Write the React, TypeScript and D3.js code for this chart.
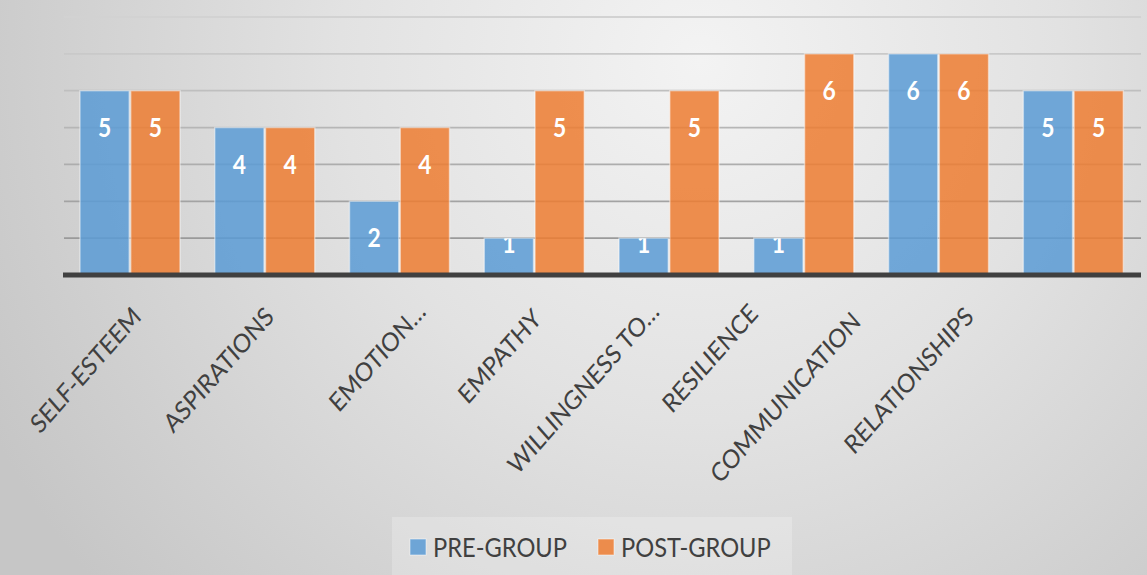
import React from "react";
import * as d3 from "d3";

const categories = [
  "SELF-ESTEEM",
  "ASPIRATIONS",
  "EMOTION…",
  "EMPATHY",
  "WILLINGNESS TO…",
  "RESILIENCE",
  "COMMUNICATION",
  "RELATIONSHIPS",
];
const preGroup = [5, 4, 2, 1, 1, 1, 6, 5];
const postGroup = [5, 4, 4, 5, 5, 6, 6, 5];
const seriesNames = ["PRE-GROUP", "POST-GROUP"];
const yTicks = [1, 2, 3, 4, 5, 6, 7];

// layout-only nudges for the rotated category labels (top-right end relative to band centre)
const labelEndDx = [1, -1, 16, -3, -20, -56, -88, -110];
const labelTopY = [305, 305, 300, 307, 300, 302, 310, 305];

const W = 1147;
const H = 575;
const FONT = "Lato, 'Open Sans', sans-serif";
const SX = 0.88; // horizontal squeeze of the text glyphs

export default function App() {
  const x = d3.scaleBand<string>().domain(categories).range([62.6, 1140.7]).paddingInner(0.258).paddingOuter(0.129);
  const xs = d3.scaleBand<string>().domain(seriesNames).range([0, x.bandwidth()]).paddingInner(0.03);
  const y = d3.scaleLinear().domain([0, 7]).range([275, 17]);
  const colors = ["#5B9BD5", "#ED7D31"];
  const series = [preGroup, postGroup];
  const gridColor = d3.scaleLinear<string>().domain([1, 7]).range(["#9a9a9a", "#d2d2d2"]);
  const capH = 26 * 0.717;

  return (
    <svg width={W} height={H} style={{ position: "absolute", left: 0, top: 0 }} fontFamily={FONT}>
      <defs>
        <radialGradient id="bg" gradientUnits="userSpaceOnUse" cx={700} cy={60} r={800}>
          <stop offset="0" stopColor="#f3f3f3" />
          <stop offset="0.45" stopColor="#e2e2e2" />
          <stop offset="1" stopColor="#c6c6c6" />
        </radialGradient>
        {categories.map((c, i) =>
          series.map((s, j) => (
            <clipPath id={`clip-${i}-${j}`} key={`${i}-${j}`}>
              <rect
                x={(x(c) as number) + (xs(seriesNames[j]) as number)}
                y={y(s[i])}
                width={xs.bandwidth()}
                height={y(0) - y(s[i])}
              />
            </clipPath>
          ))
        )}
      </defs>
      <rect x={0} y={0} width={W} height={H} fill="url(#bg)" />

      {/* gridlines */}
      {yTicks.map((t) => (
        <line key={t} x1={64} x2={1141} y1={y(t)} y2={y(t)} stroke={gridColor(t)} strokeWidth={1.8} />
      ))}

      {/* bars */}
      {categories.map((c, i) =>
        series.map((s, j) => (
          <rect
            key={`b-${i}-${j}`}
            x={(x(c) as number) + (xs(seriesNames[j]) as number)}
            y={y(s[i])}
            width={xs.bandwidth()}
            height={y(0) - y(s[i])}
            fill={colors[j]}
            fillOpacity={0.85}
            stroke="#ffffff"
            strokeOpacity={0.45}
            strokeWidth={1.5}
          />
        ))
      )}

      {/* baseline */}
      <line x1={63} x2={1141} y1={y(0)} y2={y(0)} stroke="#404040" strokeWidth={5} />

      {/* data labels */}
      {categories.map((c, i) =>
        series.map((s, j) => {
          const lx = (x(c) as number) + (xs(seriesNames[j]) as number) + xs.bandwidth() / 2;
          const ly = Math.min(y(s[i]) + 46, y(0) - 22);
          return (
            <g key={`l-${i}-${j}`} clipPath={`url(#clip-${i}-${j})`}>
              <text
                transform={`translate(${lx},${ly}) scale(${SX},1)`}
                textAnchor="middle"
                fill="#ffffff"
                fontWeight={700}
                fontSize={26}
              >
                {s[i]}
              </text>
            </g>
          );
        })
      )}

      {/* category labels */}
      {categories.map((c, i) => {
        const cx = (x(c) as number) + x.bandwidth() / 2 + labelEndDx[i] + 0.707 * capH * SX;
        const cy = labelTopY[i] + 0.707 * capH;
        return (
          <text
            key={`c-${i}`}
            transform={`translate(${cx},${cy}) scale(${SX},1) rotate(-45)`}
            textAnchor="end"
            fill="#404040"
            fontSize={26}
          >
            {c}
          </text>
        );
      })}

      {/* legend */}
      <rect x={392} y={517} width={400} height={58} fill="#ffffff" fillOpacity={0.22} />
      {seriesNames.map((n, j) => {
        const lx = j === 0 ? 410 : 598;
        return (
          <g key={n}>
            <rect x={lx} y={539} width={16} height={16} fill={colors[j]} fillOpacity={0.85} stroke="#ffffff" strokeOpacity={0.5} />
            <text transform={`translate(${lx + 23},557) scale(${SX + 0.03},1)`} fill="#404040" fontSize={26}>
              {n}
            </text>
          </g>
        );
      })}
    </svg>
  );
}
